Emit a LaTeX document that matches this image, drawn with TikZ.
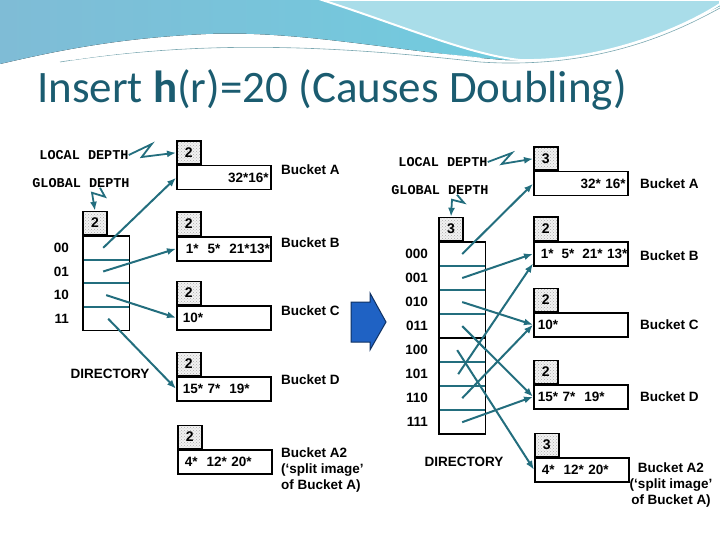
\documentclass[tikz,border=0pt]{standalone}
\usepackage{fontspec}
\setmainfont{Liberation Sans}
\newfontfamily\titlefont{Carlito}
\newfontfamily\courfont{Liberation Mono}
\usepackage{xcolor}
\usepackage{tikz}
\usetikzlibrary{positioning,fit,patterns,arrows.meta}

\definecolor{titleteal}{HTML}{1B5C70}
\definecolor{ptrteal}{HTML}{236E7E}
\definecolor{slideblue}{HTML}{1F62C4}
\definecolor{swoopcyan}{HTML}{7FBCD6}
\definecolor{swoopaqua}{HTML}{6CD2E2}
\definecolor{swooplight}{HTML}{A9DDE9}

\begin{document}
\begin{tikzpicture}[
    x=1pt, y=-1pt,
    ptr/.style={-{Latex[length=9pt,width=7pt]}, line width=2pt, draw=ptrteal},
    zig/.style={ptr, line width=1.8pt},
    bucket/.style={draw, line width=1.5pt, minimum width=94pt, minimum height=24pt, inner xsep=2pt, inner ysep=0pt,
        text width=90pt, align=left, anchor=north west, font=\bfseries\fontsize{13.5}{15}\selectfont},
    depthbox/.style={draw, line width=1.5pt, preaction={fill=gray!10}, pattern=crosshatch dots, pattern color=gray!65,
        minimum width=24pt, minimum height=23pt, inner sep=0pt, anchor=south west,
        font=\bfseries\fontsize{14}{15}\selectfont},
    dirrow/.style={minimum width=46pt, minimum height=23.25pt, inner sep=0pt, anchor=north west},
    rowlabel/.style={font=\bfseries\fontsize{13.5}{15}\selectfont, inner sep=0pt},
    tag/.style={font=\bfseries\fontsize{13.5}{16}\selectfont, inner sep=0pt, align=left},
    depthlabel/.style={font=\courfont\bfseries\fontsize{13.5}{15}\selectfont, inner sep=0pt},
    divider/.style={draw=ptrteal, line width=1.8pt}
]
    \useasboundingbox (0,0) rectangle (720,540);

    % slide banner
    \fill[left color=swoopcyan, right color=swoopaqua] (0,0) -- (720,0) -- (720,6)
        .. controls (650,40) and (570,62) .. (505,60)
        .. controls (400,52) and (300,30) .. (206,34)
        .. controls (120,38) and (60,50) .. (0,64) -- cycle;
    \fill[swooplight, draw=white, line width=2pt] (322,0) .. controls (400,25) and (470,55) .. (520,60)
        .. controls (600,62) and (680,30) .. (720,4) -- (720,0) -- cycle;
    \draw[ptrteal!60, line width=0.6pt] (60,62) .. controls (200,40) and (330,45) .. (480,62)
        .. controls (600,70) and (680,30) .. (720,8);
    \draw[white, line width=0.8pt] (70,60) .. controls (200,40) and (330,42) .. (480,58);

    \node[anchor=base west, font=\titlefont\fontsize{45}{52}\selectfont, text=titleteal, inner sep=0pt]
        (title) at (37,103) {Insert {\bfseries h}(r)=20 (Causes Doubling)};

    % before doubling
    \node[depthlabel] (lLocal) at (84,155) {LOCAL DEPTH};
    \node[depthlabel] (lGlobal) at (81,183) {GLOBAL DEPTH};

    \node[bucket, align=right] (bA) at (176,165) {32*16*\hspace*{-4pt}};
    \node[depthbox] (dA) at (bA.north west) {2};
    \node[bucket] (bB) at (176,236) {\mbox{\hspace*{7pt}1*\hspace{9pt}5*\hspace{9pt}21*13*}};
    \node[depthbox] (dB) at (bB.north west) {2};
    \node[bucket] (bC) at (176,305) {\hspace*{4pt}10*};
    \node[depthbox] (dC) at (bC.north west) {2};
    \node[bucket] (bD) at (176,376) {\mbox{\hspace*{4pt}15* 7*\hspace{9pt}19*}};
    \node[depthbox] (dD) at (bD.north west) {2};
    \node[bucket] (bA2) at (177,449) {\mbox{\hspace*{5pt}4*\hspace{9pt}12* 20*}};
    \node[depthbox] (dA2) at (bA2.north west) {2};

    \node[tag, anchor=west] (tA) at (281,170) {Bucket A};
    \node[tag, anchor=west] (tB) at (281,243) {Bucket B};
    \node[tag, anchor=west] (tC) at (281,311) {Bucket C};
    \node[tag, anchor=west] (tD) at (281,380) {Bucket D};
    \node[tag, anchor=north west] (tA2) at (281,448) {Bucket A2\\(`split image'\\of Bucket A)};

    \node[dirrow] (r00) at (83,236) {};
    \node[dirrow, below=0pt of r00] (r01) {};
    \node[dirrow, below=0pt of r01] (r10) {};
    \node[dirrow, below=0pt of r10] (r11) {};
    \draw[divider] (r00.south west) -- (r00.south east);
    \draw[divider] (r01.south west) -- (r01.south east);
    \draw[divider] (r10.south west) -- (r10.south east);
    \node[fit=(r00)(r11), draw, line width=1.5pt, inner sep=0pt] (dir) {};
    \node[depthbox] (dDir) at (dir.north west) {2};

    \node[rowlabel, left=14pt of r00] (l00) {00};
    \node[rowlabel, left=14pt of r01] (l01) {01};
    \node[rowlabel, left=14pt of r10] (l10) {10};
    \node[rowlabel, left=14pt of r11] (l11) {11};
    \node[tag] (lDir) at (110,374) {DIRECTORY};

    \draw[zig] (lLocal.east) -- ++(23,-11) -- ++(-10,13) -- (dA.west);
    \draw[zig] ([xshift=19pt]lGlobal.south) -- ++(5,9) -- ++(-13,-4) -- (dDir.north);

    \draw[ptr] ([xshift=-3pt]r00.center) -- (bA.west);
    \draw[ptr] ([xshift=-3pt]r01.center) -- (bB.west);
    \draw[ptr] (r10.center) -- (bC.west);
    \draw[ptr] ([xshift=2pt]r11.center) -- (bD.west);

    % doubling arrow
    \filldraw[fill=slideblue, draw=slideblue!50!black, line width=1pt]
        (351,302) -- (370,302) -- (370,293) -- (386,322) -- (370,350) -- (370,342) -- (351,342) -- cycle;

    % after doubling
    \node[depthlabel] (rLocal) at (443,162) {LOCAL DEPTH};
    \node[depthlabel] (rGlobal) at (440,190) {GLOBAL DEPTH};

    \node[bucket, align=right] (nA) at (533,171) {32* 16*\hspace*{-2pt}};
    \node[depthbox] (eA) at (nA.north west) {3};
    \node[bucket] (nB) at (533,241) {\mbox{\hspace*{5pt}1*\hspace{8pt}5*\hspace{8pt}21* 13*}};
    \node[depthbox] (eB) at (nB.north west) {2};
    \node[bucket] (nC) at (533,312) {\hspace*{2pt}10*};
    \node[depthbox] (eC) at (nC.north west) {2};
    \node[bucket] (nD) at (533,384) {\mbox{\hspace*{2pt}15* 7*\hspace{9pt}19*}};
    \node[depthbox] (eD) at (nD.north west) {2};
    \node[bucket] (nA2) at (534,457) {\mbox{\hspace*{5pt}4*\hspace{9pt}12* 20*}};
    \node[depthbox] (eA2) at (nA2.north west) {3};

    \node[tag, anchor=west] (sA) at (640,184) {Bucket A};
    \node[tag, anchor=west] (sB) at (640,256) {Bucket B};
    \node[tag, anchor=west] (sC) at (640,325) {Bucket C};
    \node[tag, anchor=west] (sD) at (640,397) {Bucket D};
    \node[tag, align=center] (sA2) at (671,485) {Bucket A2\\(`split image'\\of Bucket A)};

    \node[dirrow, minimum height=23.625pt] (R000) at (439,242) {};
    \node[dirrow, minimum height=23.625pt, below=0pt of R000] (R001) {};
    \node[dirrow, minimum height=23.625pt, below=0pt of R001] (R010) {};
    \node[dirrow, minimum height=23.625pt, below=0pt of R010] (R011) {};
    \node[dirrow, minimum height=23.625pt, below=0pt of R011] (R100) {};
    \node[dirrow, minimum height=23.625pt, below=0pt of R100] (R101) {};
    \node[dirrow, minimum height=23.625pt, below=0pt of R101] (R110) {};
    \node[dirrow, minimum height=23.625pt, below=0pt of R110] (R111) {};
    \draw[divider] (R000.south west) -- (R000.south east);
    \draw[divider] (R001.south west) -- (R001.south east);
    \draw[divider] (R010.south west) -- (R010.south east);
    \draw[line width=1.5pt] (R011.south west) -- (R011.south east);
    \draw[divider] (R100.south west) -- (R100.south east);
    \draw[divider] (R101.south west) -- (R101.south east);
    \draw[divider] (R110.south west) -- (R110.south east);
    \node[fit=(R000)(R111), draw, line width=1.5pt, inner sep=0pt] (newdir) {};
    \node[depthbox] (eDir) at (newdir.north west) {3};

    \node[rowlabel, left=11pt of R000] (m000) {000};
    \node[rowlabel, left=11pt of R001] (m001) {001};
    \node[rowlabel, left=11pt of R010] (m010) {010};
    \node[rowlabel, left=11pt of R011] (m011) {011};
    \node[rowlabel, left=11pt of R100] (m100) {100};
    \node[rowlabel, left=11pt of R101] (m101) {101};
    \node[rowlabel, left=11pt of R110] (m110) {110};
    \node[rowlabel, left=11pt of R111] (m111) {111};
    \node[tag] (rDir) at (464,462) {DIRECTORY};

    \draw[zig] (rLocal.east) -- ++(24,-9) -- ++(-10,11) -- (eA.west);
    \draw[zig] ([xshift=17pt]rGlobal.south) -- ++(7,8) -- ++(-12,-3) -- (eDir.north);

    \draw[ptr] (R000.center) -- (nA.west);
    \draw[ptr] (R001.center) -- (nB.west);
    \draw[ptr] (R010.center) -- (nC.west);
    \draw[ptr] (R011.center) -- (nD.west);
    \draw[ptr] ([xshift=-5pt]R100.center) -- (nA2.west);
    \draw[ptr] ([xshift=-4pt]R101.center) -- ([yshift=3pt]nB.south west);
    \draw[ptr] (R110.center) -- (nC.west);
    \draw[ptr] (R111.center) -- (nD.west);
\end{tikzpicture}
\end{document}
